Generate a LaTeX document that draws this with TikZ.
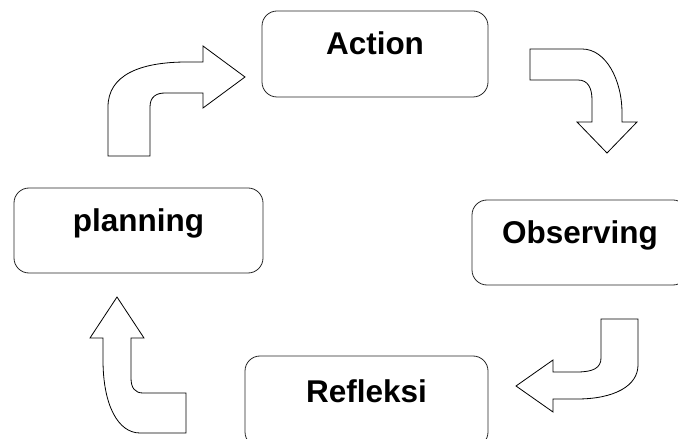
\documentclass[tikz,border=0pt]{standalone}
\usepackage{fontspec}
\setmainfont{Liberation Sans}
\usepackage{tikz}

\begin{document}
\begin{tikzpicture}[x=1bp,y=-1bp]
  \useasboundingbox (0,0) rectangle (678,439);
  \tikzstyle{BoxStyle}=[draw=black!85,line width=0.8bp,rounded corners=15bp,
    inner sep=0pt,text height=23bp,text depth=21bp,
    font=\fontsize{31.6}{38}\selectfont\bfseries]
  \tikzstyle{BentStyle}=[draw=black,fill=white,line width=0.8bp,line join=miter]
  \node[BoxStyle,minimum width=226bp,minimum height=86bp] (act) at (375,54) {Action};
  \node[BoxStyle,minimum width=216bp,minimum height=85bp] (obs) at (580,242.5) {Observing};
  \node[BoxStyle,minimum width=243bp,minimum height=91bp] (ref) at (366.5,401.5) {Refleksi};
  \node[BoxStyle,minimum width=249bp,minimum height=85bp] (pla) at (138.5,230.5) {planning};
  % planning -> Action
  \path[BentStyle] (108,156) -- (108,107) .. controls (108,75) and (140,62) .. (187,62)
    -- (203,62) -- (203,46) -- (245,77) -- (203,108) -- (203,93) -- (165,93)
    .. controls (156,93) and (150,97) .. (150,107) -- (150,156) -- cycle;
  % Action -> Observing
  \path[BentStyle] (530,49) -- (582,49) .. controls (606,49) and (622,80) .. (622,113)
    -- (622,122) -- (637,122) -- (607,153) -- (577,122) -- (592,122) -- (592,100)
    .. controls (592,88) and (588,80) .. (578,80) -- (530,80) -- cycle;
  % Observing -> Refleksi
  \path[BentStyle] (601,319) -- (638,319) -- (638,365) .. controls (638,386) and (614,399) .. (577,399)
    -- (553,399) -- (553,412) -- (516,386) -- (553,360) -- (553,372) -- (577,372)
    .. controls (593,372) and (601,368) .. (601,358) -- cycle;
  % Refleksi -> planning
  \path[BentStyle] (90,338) -- (117,297) -- (144,338) -- (131,338) -- (131,378)
    .. controls (131,388) and (135,393) .. (143,393) -- (186,393) -- (186,433) -- (140,433)
    .. controls (118,433) and (103,405) .. (103,360) -- (103,338) -- cycle;
\end{tikzpicture}
\end{document}
